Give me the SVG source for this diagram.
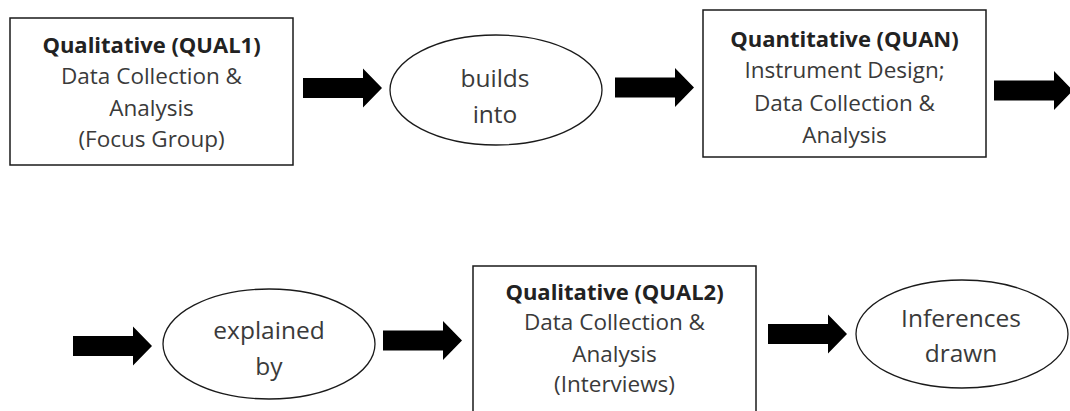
<svg xmlns="http://www.w3.org/2000/svg" xmlns:xlink="http://www.w3.org/1999/xlink" width="1070" height="411" viewBox="0 0 1070 411">
<defs>
<style>
.box{fill:#fff;stroke:#1a1a1a;stroke-width:1.5}
.ell{fill:#fff;stroke:#1a1a1a;stroke-width:1.3}
.t{font-family:"Open Sans","Noto Sans",sans-serif;font-size:22.5px;fill:#3a3a3a;text-anchor:middle}
.e{font-size:24.5px}
.b{font-weight:bold;fill:#222;font-size:22px}
.arrow{fill:#000}
</style>
<path id="arr" d="M0,-10 H60 V-19.5 L79,0 L60,19.5 V10 H0 Z"/>
</defs>
<rect width="1070" height="411" fill="#fff"/>
<g id="connectors" class="arrow">
<use xlink:href="#arr" transform="translate(303,88)"/>
<use xlink:href="#arr" transform="translate(615,87.5)"/>
<use xlink:href="#arr" transform="translate(994,90.5)"/>
<use xlink:href="#arr" transform="translate(73,346)"/>
<use xlink:href="#arr" transform="translate(383,340.5)"/>
<use xlink:href="#arr" transform="translate(768,334)"/>
</g>
<g id="qual1">
<rect class="box" x="10" y="18" width="283" height="147"/>
<text class="t b" x="151.5" y="53">Qualitative (QUAL1)</text>
<text class="t" x="151.5" y="84">Data Collection &amp;</text>
<text class="t" x="151.5" y="116">Analysis</text>
<text class="t" x="151.5" y="147">(Focus Group)</text>
</g>
<g id="builds">
<ellipse class="ell" cx="496" cy="90" rx="106" ry="55"/>
<text class="t e" x="495" y="87">builds</text>
<text class="t e" x="495" y="123">into</text>
</g>
<g id="quan">
<rect class="box" x="703" y="10" width="283" height="147"/>
<text class="t b" x="844.5" y="47">Quantitative (QUAN)</text>
<text class="t" x="844.5" y="78">Instrument Design;</text>
<text class="t" x="844.5" y="111">Data Collection &amp;</text>
<text class="t" x="844.5" y="143">Analysis</text>
</g>
<g id="explained">
<ellipse class="ell" cx="269" cy="344" rx="106" ry="55"/>
<text class="t e" x="269" y="339">explained</text>
<text class="t e" x="269" y="375">by</text>
</g>
<g id="qual2">
<rect class="box" x="473" y="266" width="283" height="160"/>
<text class="t b" x="614.5" y="300">Qualitative (QUAL2)</text>
<text class="t" x="614.5" y="330">Data Collection &amp;</text>
<text class="t" x="614.5" y="362">Analysis</text>
<text class="t" x="614.5" y="392">(Interviews)</text>
</g>
<g id="inferences">
<ellipse class="ell" cx="962" cy="334" rx="106" ry="54"/>
<text class="t e" x="961" y="327">Inferences</text>
<text class="t e" x="961" y="362">drawn</text>
</g>
</svg>
